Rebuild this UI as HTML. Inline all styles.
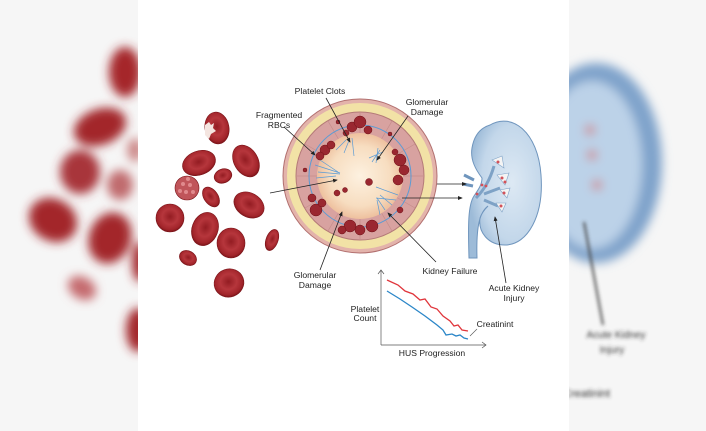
<!DOCTYPE html>
<html><head><meta charset="utf-8"><style>
html,body{margin:0;padding:0;background:#fff;}
svg{display:block;}
text{font-family:"Liberation Sans",sans-serif;font-size:8.6px;fill:#222;}
</style></head><body>
<svg width="706" height="431" viewBox="0 0 706 431" xmlns="http://www.w3.org/2000/svg">
<defs>
<filter id="bl" x="-20%" y="-20%" width="140%" height="140%"><feGaussianBlur stdDeviation="5"/></filter>
<filter id="bl2"><feGaussianBlur stdDeviation="1.8"/></filter>
<radialGradient id="rbc" cx="50%" cy="45%" r="55%"><stop offset="0" stop-color="#931c22"/><stop offset="0.5" stop-color="#b6363c"/><stop offset="0.85" stop-color="#a1242a"/><stop offset="1" stop-color="#7c1419"/></radialGradient>
<radialGradient id="core" cx="50%" cy="50%" r="50%"><stop offset="0" stop-color="#fdf1e0"/><stop offset="0.7" stop-color="#f7ddc0"/><stop offset="1" stop-color="#eec09e"/></radialGradient>
<radialGradient id="kid" cx="60%" cy="45%" r="60%"><stop offset="0" stop-color="#dde9f4"/><stop offset="0.7" stop-color="#c3d7ea"/><stop offset="1" stop-color="#9dbbd8"/></radialGradient>
<marker id="ah" markerWidth="6" markerHeight="6" refX="5" refY="3" orient="auto"><path d="M0,0.5 L6,3 L0,5.5 z" fill="#222"/></marker>
<clipPath id="lc"><rect x="0" y="0" width="138" height="431"/></clipPath>
<clipPath id="rc"><rect x="569" y="0" width="137" height="431"/></clipPath>
</defs>
<rect width="706" height="431" fill="#fff"/>
<g clip-path="url(#lc)">
<rect width="138" height="431" fill="#f6f6f6"/>
<g filter="url(#bl)">
<ellipse cx="125" cy="72" rx="16" ry="25" fill="#a5262c"/>
<ellipse cx="100" cy="127" rx="27" ry="18" transform="rotate(-20 100 127)" fill="#a3252b"/>
<ellipse cx="80" cy="172" rx="20" ry="22" fill="#a8353a"/>
<ellipse cx="120" cy="185" rx="13" ry="15" fill="#c06a6d"/>
<ellipse cx="53" cy="220" rx="25" ry="21" transform="rotate(30 53 220)" fill="#a3252b"/>
<ellipse cx="110" cy="238" rx="21" ry="26" transform="rotate(20 110 238)" fill="#a3252b"/>
<ellipse cx="82" cy="288" rx="15" ry="11" transform="rotate(30 82 288)" fill="#c56a6e"/>
<ellipse cx="140" cy="262" rx="8" ry="20" fill="#a3252b"/>
<ellipse cx="138" cy="330" rx="12" ry="22" fill="#a3252b"/>
<ellipse cx="135" cy="150" rx="8" ry="12" fill="#c88"/>
</g></g>
<g clip-path="url(#rc)">
<rect x="569" width="137" height="431" fill="#f6f6f6"/>
<g filter="url(#bl)">
<ellipse cx="596" cy="163" rx="66" ry="100" fill="#7fa3cb"/>
<ellipse cx="592" cy="165" rx="50" ry="84" fill="#bcd2e8"/>
<circle cx="590" cy="130" r="5" fill="#d08080"/><circle cx="592" cy="155" r="5" fill="#d08080"/><circle cx="597" cy="185" r="5" fill="#d08080"/>
</g>
<g filter="url(#bl2)">
<line x1="584" y1="222" x2="603" y2="325" stroke="#444" stroke-width="2"/>
<text x="616" y="338" text-anchor="middle" style="font-size:10px;fill:#333">Acute Kidney</text>
<text x="612" y="353" text-anchor="middle" style="font-size:10px;fill:#333">Injury</text>
<text x="563" y="397" style="font-size:11px;fill:#333">Creatinint</text>
</g></g>
<g stroke="#7a1318" stroke-width="0.6">
<ellipse cx="217" cy="128" rx="12" ry="16" transform="rotate(-10 217 128)" fill="url(#rbc)"/>
<path d="M205,125 l4,-3 l2,3 l3,-2 l-1,5 l3,3 l-5,3 l-2,5 l-4,-4 z" fill="#f4e5e0" stroke="none"/>
<ellipse cx="199" cy="163" rx="17" ry="12" transform="rotate(-20 199 163)" fill="url(#rbc)"/>
<ellipse cx="246" cy="161" rx="12" ry="17" transform="rotate(-30 246 161)" fill="url(#rbc)"/>
<ellipse cx="223" cy="176" rx="9" ry="7" transform="rotate(-20 223 176)" fill="url(#rbc)"/>
<circle cx="187" cy="188" r="12" fill="#c0555a"/>
<ellipse cx="211" cy="197" rx="7" ry="11" transform="rotate(-35 211 197)" fill="url(#rbc)"/>
<ellipse cx="249" cy="205" rx="16" ry="12" transform="rotate(30 249 205)" fill="url(#rbc)"/>
<ellipse cx="170" cy="218" rx="14" ry="14" fill="url(#rbc)"/>
<ellipse cx="205" cy="229" rx="13" ry="17" transform="rotate(20 205 229)" fill="url(#rbc)"/>
<ellipse cx="231" cy="243" rx="14" ry="15" fill="url(#rbc)"/>
<ellipse cx="272" cy="240" rx="6" ry="11" transform="rotate(20 272 240)" fill="url(#rbc)"/>
<ellipse cx="188" cy="258" rx="9" ry="7" transform="rotate(30 188 258)" fill="url(#rbc)"/>
<ellipse cx="229" cy="283" rx="15" ry="14" transform="rotate(-20 229 283)" fill="url(#rbc)"/>
</g>
<g fill="#e08a8d"><circle cx="183" cy="184" r="2"/><circle cx="190" cy="185" r="2"/><circle cx="186" cy="192" r="2"/><circle cx="193" cy="192" r="2"/><circle cx="180" cy="191" r="2"/><circle cx="188" cy="179" r="2"/></g>
<circle cx="360" cy="176" r="77" fill="#e3b3ab" stroke="#b27070" stroke-width="1"/>
<circle cx="360" cy="176" r="73" fill="#f2e2a6"/>
<circle cx="360" cy="176" r="64" fill="#d8a2a0" stroke="#b47a78" stroke-width="1"/>
<g stroke="#c58d8b" stroke-width="0.7" fill="none">
<path d="M360,112 v22 M392,121 l-11,19 M415,144 l-19,11 M424,176 h-22 M415,208 l-19,-11 M392,231 l-11,-19 M360,240 v-22 M328,231 l11,-19 M305,208 l19,-11 M296,176 h22 M305,144 l19,11 M328,121 l11,19"/>
</g>
<circle cx="360" cy="176" r="43" fill="url(#core)"/>
<circle cx="360" cy="176" r="51" fill="none" stroke="#5b9bd5" stroke-width="1"/>
<g stroke="#5b9bd5" stroke-width="0.7" fill="none">
<path d="M350,138 l-6,15 M352,138 l2,18 M346,140 l-10,10 M380,150 l-8,12 M383,152 l-14,6 M378,148 l-2,15"/>
<path d="M315,165 l25,8 M318,172 l22,2 M316,178 l20,-2 M320,160 l18,12"/>
<path d="M398,195 l-22,-8 M396,200 l-20,-2 M392,205 l-12,-10 M385,210 l-8,-12 M380,215 l-3,-15"/>
</g>
<g fill="#9a2730" stroke="#6e1016" stroke-width="0.5">
<circle cx="325" cy="150" r="5"/><circle cx="331" cy="145" r="4"/><circle cx="320" cy="156" r="4"/>
<circle cx="352" cy="127" r="5"/><circle cx="360" cy="122" r="6"/><circle cx="368" cy="130" r="4"/><circle cx="346" cy="133" r="3"/>
<circle cx="400" cy="160" r="6"/><circle cx="404" cy="170" r="5"/><circle cx="398" cy="180" r="5"/><circle cx="395" cy="152" r="3"/>
<circle cx="312" cy="198" r="4"/><circle cx="316" cy="210" r="6"/><circle cx="322" cy="203" r="4"/>
<circle cx="350" cy="226" r="6"/><circle cx="360" cy="230" r="5"/><circle cx="372" cy="226" r="6"/><circle cx="342" cy="230" r="4"/>
<circle cx="369" cy="182" r="3.5"/><circle cx="337" cy="193" r="3"/><circle cx="345" cy="190" r="2.5"/><circle cx="400" cy="210" r="3"/>
<circle cx="305" cy="170" r="2"/><circle cx="338" cy="122" r="2"/><circle cx="390" cy="134" r="2"/>
</g>
<!-- kidney -->
<path d="M474,180 l-10,-5 M473,186 l-10,-2" stroke="#6f95bd" stroke-width="3"/>
<path d="M490,125 C512,112 538,132 541,175 C544,215 528,245 505,245 C488,245 478,232 480,218 C482,212 486,208 488,206 C480,212 476,225 477,258 L469,258 C468,225 468,205 474,196 C478,190 482,185 482,178 C476,170 470,160 472,148 C474,136 480,128 490,125 Z" fill="url(#kid)" stroke="#6f95bd" stroke-width="1"/>
<path d="M476,198 C484,190 490,180 494,166 M484,194 l16,-6 M484,200 l14,6" stroke="#7ea2c6" stroke-width="3" fill="none"/>
<g fill="#f4f4f4" stroke="#7ea2c6" stroke-width="0.6"><path d="M492,160 l10,-4 l2,12z"/><path d="M497,175 l12,-2 l-4,12z"/><path d="M500,190 l10,-2 l-3,10z"/><path d="M496,203 l10,0 l-4,9z"/></g>
<g fill="#d2525a"><circle cx="498" cy="162" r="1.5"/><circle cx="502" cy="178" r="1.5"/><circle cx="505" cy="182" r="1.5"/><circle cx="504" cy="193" r="1.5"/><circle cx="501" cy="206" r="1.5"/><circle cx="482" cy="185" r="1.4"/><circle cx="486" cy="186" r="1.4"/><circle cx="477" cy="194" r="1.4"/></g>
<g stroke="#222" stroke-width="0.8" fill="none" marker-end="url(#ah)">
<line x1="326" y1="98" x2="350" y2="142"/>
<line x1="284" y1="127" x2="315" y2="155"/>
<line x1="408" y1="116" x2="377" y2="160"/>
<line x1="270" y1="193" x2="337" y2="180"/>
<line x1="320" y1="270" x2="342" y2="212"/>
<line x1="436" y1="262" x2="388" y2="213"/>
<line x1="437" y1="184" x2="466" y2="184"/>
<line x1="402" y1="198" x2="462" y2="198"/>
<line x1="506" y1="283" x2="495" y2="217"/>
</g>
<path d="M381,345 V270 M378,274 l3,-4 l3,4 M381,345 H486 M482,342 l4,3 l-4,3" stroke="#555" stroke-width="0.7" fill="none"/>
<path d="M387,280 L398,285 L405,291 L413,294 L420,300 L425,299 L431,307 L437,309 L443,316 L450,321 L454,326 L458,325 L462,330 L468,331" stroke="#e0353b" stroke-width="1.3" fill="none"/>
<path d="M387,291 L400,299 L412,307 L425,316 L437,325 L443,330 L446,335 L452,334 L456,336 L460,335 L464,338 L468,339" stroke="#2b86c8" stroke-width="1.3" fill="none"/>
<path d="M470,336 l7,-7" stroke="#555" stroke-width="0.6"/>
<text x="320" y="94" text-anchor="middle">Platelet Clots</text>
<text x="279" y="118" text-anchor="middle">Fragmented</text>
<text x="279" y="128" text-anchor="middle">RBCs</text>
<text x="427" y="105" text-anchor="middle">Glomerular</text>
<text x="427" y="115" text-anchor="middle">Damage</text>
<text x="315" y="278" text-anchor="middle">Glomerular</text>
<text x="315" y="288" text-anchor="middle">Damage</text>
<text x="450" y="274" text-anchor="middle">Kidney Failure</text>
<text x="514" y="291" text-anchor="middle">Acute Kidney</text>
<text x="514" y="301" text-anchor="middle">Injury</text>
<text x="365" y="312" text-anchor="middle">Platelet</text>
<text x="365" y="321" text-anchor="middle">Count</text>
<text x="495" y="327" text-anchor="middle">Creatinint</text>
<text x="432" y="356" text-anchor="middle">HUS Progression</text>
</svg>
</body></html>
